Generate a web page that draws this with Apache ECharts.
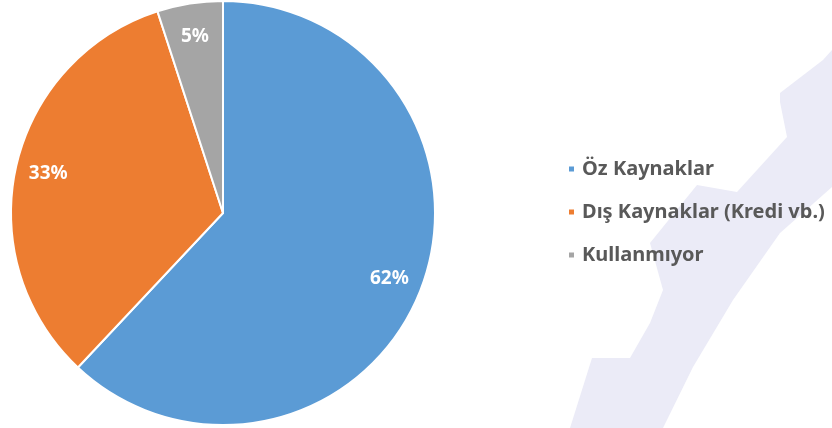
<!DOCTYPE html>
<html>
<head>
<meta charset="utf-8">
<script src="https://cdn.jsdelivr.net/npm/echarts@6/dist/echarts.min.js"></script>
<style>
  html, body { margin: 0; padding: 0; background: #fff; }
  #chart { width: 832px; height: 428px; }
</style>
</head>
<body>
<div id="chart"></div>
<script>
// kaynak dağılımı (%)
const categories = ['Öz Kaynaklar', 'Dış Kaynaklar (Kredi vb.)', 'Kullanmıyor']
const values = [62, 33, 5]
const colors = ['#5B9BD5', '#ED7D31', '#A5A5A5']

const pieData = categories.map((name, i) => ({
  name: name,
  value: values[i],
  itemStyle: { color: colors[i] }
}))

const chart = echarts.init(document.getElementById('chart'))

chart.setOption({
  backgroundColor: '#ffffff',
  animation: false,
  graphic: [{
    // soluk arka plan filigranı (dişli parçası)
    type: 'polygon',
    silent: true,
    z: -10,
    shape: {
      points: [
        [832, 50], [823, 60], [780, 93], [780, 102], [787, 137], [737, 192],
        [697, 185], [650, 243], [663, 290], [650, 323], [630, 358], [592, 358],
        [570, 428], [663, 428], [693, 367], [733, 300], [780, 233], [832, 187]
      ]
    },
    style: { fill: '#EBEBF7' }
  }],
  legend: {
    orient: 'vertical',
    left: 562,
    top: 154,
    itemWidth: 7,
    itemHeight: 7,
    itemGap: 23,
    icon: 'rect',
    textStyle: {
      fontFamily: 'Noto Sans',
      fontWeight: 'bold',
      fontSize: 20,
      color: '#595959',
      padding: [0, 0, 0, 2]
    },
    data: categories
  },
  series: [
    {
      type: 'pie',
      center: [223, 213],
      radius: [0, 212],
      startAngle: 90,
      clockwise: true,
      itemStyle: { borderColor: '#ffffff', borderWidth: 2 },
      label: { show: false },
      labelLine: { show: false },
      emphasis: { disabled: true },
      data: pieData
    },
    {
      // etiketler için görünmez halka
      type: 'pie',
      center: [223, 213],
      radius: [140, 212],
      startAngle: 90,
      clockwise: true,
      silent: true,
      legendHoverLink: false,
      itemStyle: { color: 'rgba(0,0,0,0)' },
      label: {
        show: true,
        position: 'inside',
        formatter: '{c}%',
        color: '#ffffff',
        fontFamily: 'Noto Sans',
        fontWeight: 'bold',
        fontSize: 19
      },
      labelLine: { show: false },
      emphasis: { disabled: true },
      data: categories.map((name, i) => ({ name: name, value: values[i] }))
    }
  ]
})
</script>
</body>
</html>
